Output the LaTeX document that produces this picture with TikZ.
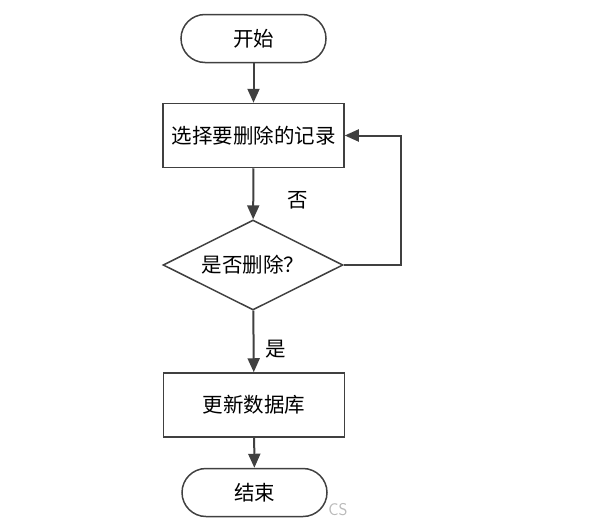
\documentclass[tikz,border=0pt]{standalone}
\usepackage{fontspec}
\newfontfamily\cjk{Noto Sans CJK SC}
\usetikzlibrary{shapes.geometric,arrows.meta}
\definecolor{ln}{HTML}{404040}
\tikzset{
  every node/.style={font=\cjk\fontsize{20.5}{22}\selectfont, text=black},
  term/.style={draw=ln, line width=1.5pt, rounded corners=24pt, minimum width=145pt, minimum height=48pt, inner sep=0pt},
  procbox/.style={draw=ln, line width=1.5pt, minimum width=181pt, minimum height=64pt, inner sep=0pt},
  decide/.style={draw=ln, line width=1.5pt, diamond, aspect=2, minimum width=180pt, minimum height=90pt, inner sep=0pt},
  conn/.style={draw=ln, line width=2pt, -{Triangle[length=14pt,width=12pt]}}
}
\begin{document}
\begin{tikzpicture}[x=1pt,y=-1pt]
\useasboundingbox (0,0) rectangle (596,530);
\node[term] (start) at (253.5,38.5) {开始};
\node[procbox] (sel) at (253.5,135.5) {选择要删除的记录};
\node[decide] (dec) at (253,265) {是否删除？};
\node[procbox] (upd) at (254,405) {更新数据库};
\node[term] (end) at (254.5,492.5) {结束};
\coordinate (r1) at (401,265);
\coordinate (r2) at (401,135.5);
\node (no) at (298,200) {否};
\node (yes) at (276,349) {是};
\node[font=\sffamily\fontsize{17}{17}\selectfont, text=gray!55] (wm) at (338,510) {CS};
\draw[conn] (start) -- (sel);
\draw[conn] (sel) -- (dec);
\draw[conn] (dec) -- (upd);
\draw[conn] (upd) -- (end);
\draw[conn] (dec.east) -- (r1) -- (r2) -- (sel.east);
\end{tikzpicture}
\end{document}
